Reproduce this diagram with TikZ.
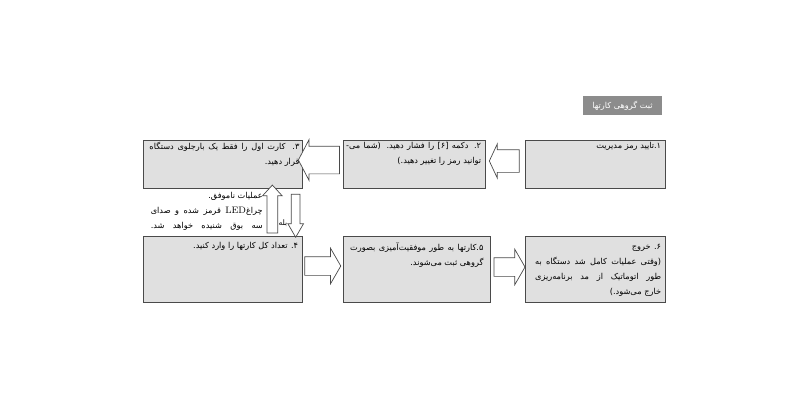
\documentclass[tikz,border=0pt]{standalone}
\usepackage{fontspec}
\usetikzlibrary{shapes.arrows,calc}
\newfontfamily\persianfont[Script=Arabic]{DejaVu Sans}
\TeXXeTstate=1
\definecolor{boxgray}{HTML}{E0E0E0}
\definecolor{linegray}{HTML}{4A4A4A}
\definecolor{titlegray}{HTML}{8C8C8C}

\begin{document}
\begin{tikzpicture}
	\tikzstyle{Step} = [rectangle, draw=linegray, fill=boxgray, line width=0.6pt, inner sep=0pt, minimum height=1.44cm]
	\tikzstyle{StepText} = [anchor=north east, align=right, inner sep=0pt, font=\persianfont\fontsize{7}{12.8}\selectfont]
	\tikzstyle{Block} = [single arrow, draw=linegray, fill=white, line width=0.6pt, inner xsep=0pt]
	\useasboundingbox (0,0) rectangle (24,12);
	% title
	\node (title) at (18.675,8.835) [rectangle, fill=titlegray, minimum width=2.37cm, minimum height=0.57cm, text=white, font=\persianfont\fontsize{7}{8}\selectfont] {\beginR ثبت گروهی کارتها\endR};
	% steps
	\node (s3) at (6.675,7.08) [Step, minimum width=4.77cm] {};
	\node (s2) at (12.42,7.08) [Step, minimum width=4.26cm] {};
	\node (s1) at (17.85,7.08) [Step, minimum width=4.2cm] {};
	\node (s4) at (6.675,3.93) [Step, minimum width=4.77cm, minimum height=1.98cm] {};
	\node (s5) at (12.495,3.93) [Step, minimum width=4.41cm, minimum height=1.98cm] {};
	\node (s6) at (17.85,3.93) [Step, minimum width=4.2cm, minimum height=1.98cm] {};
	\node (t1) at ([shift={(-0.12,-0.08)}]s1.north east) [StepText] {\beginR ۱.تایید رمز مدیریت\endR};
	\node (t2) at ([shift={(-0.12,-0.08)}]s2.north east) [StepText] {\hbox to 4.05cm{\beginR ۲\kern0pt. دکمه [۶] را فشار دهید. (شما می-\endR}\\ \beginR توانید رمز را تغییر دهید.)\endR};
	\node (t3) at ([shift={(-0.08,-0.08)}]s3.north east) [StepText] {\hbox to 4.5cm{\beginR ۳\kern0pt. کارت اول را فقط یک بارجلوی دستگاه\endR}\\ \beginR قرار دهید.\endR};
	\node (t4) at ([shift={(-0.12,-0.2)}]s4.north east) [StepText] {\beginR ۴\kern0pt. تعداد کل کارتها را وارد کنید.\endR};
	\node (t5) at ([shift={(-0.2,-0.2)}]s5.north east) [StepText] {\hbox to 4cm{\beginR ۵.کارتها به طور موفقیت‌آمیزی بصورت\endR}\\ \beginR گروهی ثبت می‌شوند.\endR};
	\node (t6) at ([shift={(-0.12,-0.26)}]s6.north east) [StepText] {\beginR ۶\kern0pt. خروج\endR\\ \hbox to 3.78cm{\beginR (وقتی عملیات کامل شد دستگاه به\endR}\\ \hbox to 3.78cm{\beginR طور اتوماتیک از مد برنامه‌ریزی\endR}\\ \beginR خارج می‌شود.)\endR};
	% arrows
	\node (a12) at ($(s2.east)!0.55!(s1.west)+(0,0.09)$) [Block, rotate=180, minimum height=0.9cm, inner ysep=0.33cm, single arrow head extend=0.17cm, single arrow tip angle=130] {};
	\node (a23) at ($(s3.east)!0.5!(s2.west)+(0,0.12)$) [Block, rotate=180, minimum height=1.23cm, inner ysep=0.405cm, single arrow head extend=0.195cm, single arrow tip angle=125] {};
	\node (a34) at ($(s3.south east)!0.5!(s4.north east)+(-0.2,0)$) [Block, rotate=270, minimum height=1.29cm, inner ysep=0.12cm, single arrow head extend=0.105cm, single arrow tip angle=60] {};
	\node (a43) at ($(s3.south east)!0.5!(s4.north east)+(-0.9,0)$) [Block, rotate=90, minimum height=1.44cm, inner ysep=0.15cm, single arrow head extend=0.135cm, single arrow tip angle=85] {};
	\node (a45) at ($(s4.east)!0.44!(s5.west)+(0,0.09)$) [Block, minimum height=1.08cm, inner ysep=0.27cm, single arrow head extend=0.255cm, single arrow tip angle=120] {};
	\node (a56) at ($(s5.east)!0.48!(s6.west)+(0,0.06)$) [Block, minimum height=0.93cm, inner ysep=0.27cm, single arrow head extend=0.255cm, single arrow tip angle=120] {};
	% labels
	\node (yes) at (8.49,5.3) [font=\persianfont\fontsize{6.5}{8}\selectfont, inner sep=0pt] {\beginR بله\endR};
	\node (fail) at (7.89,6.24) [StepText] {\beginR عملیات ناموفق.\endR\\ \hbox to 3.36cm{\beginR چراغ\beginL{\rmfamily\fontsize{8}{8}\selectfont LED}\endL{} قرمز شده و صدای\endR}\\ \hbox to 3.36cm{\beginR سه بوق شنیده خواهد شد.\endR}};
\end{tikzpicture}
\end{document}
